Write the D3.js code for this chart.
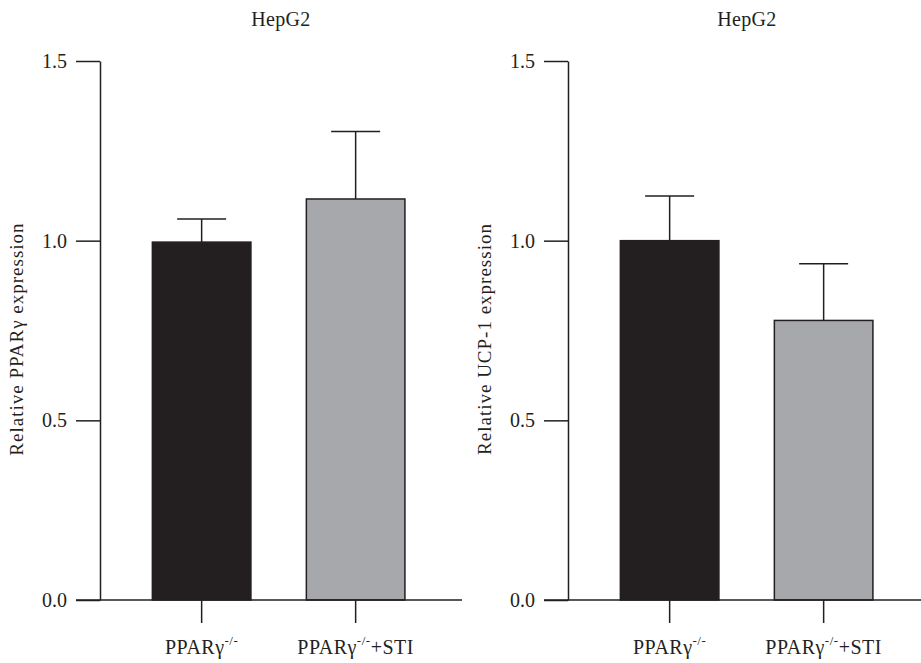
<!DOCTYPE html>
<html>
<head>
<meta charset="utf-8">
<script src="https://cdn.jsdelivr.net/npm/d3@7"></script>
<style>
  html, body { margin: 0; padding: 0; background: #fff; }
  svg { display: block; font-family: "Liberation Serif", "Times New Roman", serif; }
</style>
</head>
<body>
<svg id="chart" width="921" height="663"></svg>
<script>
// Group labels: base text and superscript parts
const categories = ["PPARγ", "PPARγ+STI"];
const labelBase = ["PPARγ", "PPARγ"];
const labelSup = ["-/-", "-/-"];
const labelTail = ["", "+STI"];

// Panel A: relative PPARγ expression (mean, SEM)
const pparMeans = [0.996, 1.116];
const pparErrors = [0.064, 0.188];

// Panel B: relative UCP-1 expression (mean, SEM)
const ucpMeans = [1.0, 0.778];
const ucpErrors = [0.124, 0.158];

const yTicks = [0.0, 0.5, 1.0, 1.5];
const panelTitles = ["HepG2", "HepG2"];
const yTitles = ["Relative PPARγ expression", "Relative UCP-1 expression"];

const barFills = ["#231f20", "#a7a8ab"];
const ink = "#231f20";

const svg = d3.select("#chart");

const panels = [
  { means: pparMeans, errs: pparErrors, title: panelTitles[0], yTitle: yTitles[0],
    axisX: 100, xLineStart: 76, xLineEnd: 462, titleX: 281, yTitleX: 23 },
  { means: ucpMeans, errs: ucpErrors, title: panelTitles[1], yTitle: yTitles[1],
    axisX: 568, xLineStart: 544, xLineEnd: 921, titleX: 747, yTitleX: 491 }
];

const y = d3.scaleLinear().domain([0, 1.5]).range([600, 61]);

panels.forEach(p => {
  const g = svg.append("g");
  const step = 154;
  const x = d3.scaleBand()
    .domain(categories)
    .range([p.axisX, p.axisX + step * (2 - 0.36 + 0.68)])
    .paddingInner(0.36)
    .paddingOuter(0.34);

  // bars
  g.selectAll("rect.bar")
    .data(p.means)
    .join("rect")
    .attr("class", "bar")
    .attr("x", (d, i) => x(categories[i]))
    .attr("width", x.bandwidth())
    .attr("y", d => y(d))
    .attr("height", d => y(0) - y(d))
    .attr("fill", (d, i) => barFills[i])
    .attr("stroke", ink)
    .attr("stroke-width", 1.5);

  // error bars (upper only)
  const capHalf = 24.5;
  const eb = g.selectAll("g.err")
    .data(p.means.map((m, i) => ({ m, e: p.errs[i], c: categories[i] })))
    .join("g")
    .attr("class", "err");
  eb.append("line")
    .attr("x1", d => x(d.c) + x.bandwidth() / 2)
    .attr("x2", d => x(d.c) + x.bandwidth() / 2)
    .attr("y1", d => y(d.m))
    .attr("y2", d => y(d.m + d.e))
    .attr("stroke", ink).attr("stroke-width", 1.5);
  eb.append("line")
    .attr("x1", d => x(d.c) + x.bandwidth() / 2 - capHalf)
    .attr("x2", d => x(d.c) + x.bandwidth() / 2 + capHalf)
    .attr("y1", d => y(d.m + d.e))
    .attr("y2", d => y(d.m + d.e))
    .attr("stroke", ink).attr("stroke-width", 1.5);

  // y axis
  const yAxis = g.append("g")
    .attr("transform", `translate(${p.axisX},0)`)
    .call(d3.axisLeft(y).tickValues(yTicks).tickFormat(d3.format(".1f"))
      .tickSize(24).tickSizeOuter(0).tickPadding(9));
  yAxis.select(".domain").attr("stroke", ink).attr("stroke-width", 1.5);
  yAxis.selectAll(".tick line").attr("stroke", ink).attr("stroke-width", 1.5);
  yAxis.selectAll(".tick text")
    .attr("font-size", 20).attr("font-family", "Liberation Serif, serif")
    .attr("fill", ink);

  // x axis
  const xAxis = g.append("g")
    .attr("transform", `translate(0,${y(0)})`)
    .call(d3.axisBottom(x).tickSize(23).tickSizeOuter(0).tickFormat(""));
  xAxis.select(".domain")
    .attr("d", `M${p.xLineStart},0H${p.xLineEnd}`)
    .attr("stroke", ink).attr("stroke-width", 1.5);
  xAxis.selectAll(".tick line").attr("stroke", ink).attr("stroke-width", 1.5);
  xAxis.selectAll(".tick text").remove();

  // category labels with superscript
  categories.forEach((c, i) => {
    const t = g.append("text")
      .attr("x", x(c) + x.bandwidth() / 2)
      .attr("y", 654)
      .attr("text-anchor", "middle")
      .attr("font-size", 20)
      .attr("letter-spacing", 0.5)
      .attr("fill", ink);
    t.append("tspan").text(labelBase[i]);
    t.append("tspan").text(labelSup[i]).attr("font-size", 13).attr("dy", -9);
    if (labelTail[i]) t.append("tspan").text(labelTail[i]).attr("dy", 9);
  });

  // panel title
  g.append("text")
    .attr("x", p.titleX).attr("y", 26)
    .attr("text-anchor", "middle")
    .attr("font-size", 20)
    .attr("letter-spacing", 0.3)
    .attr("fill", ink)
    .text(p.title);

  // y-axis title
  g.append("text")
    .attr("transform", `translate(${p.yTitleX},339) rotate(-90)`)
    .attr("text-anchor", "middle")
    .attr("font-size", 19)
    .attr("letter-spacing", 1)
    .attr("fill", ink)
    .text(p.yTitle);
});
</script>
</body>
</html>
